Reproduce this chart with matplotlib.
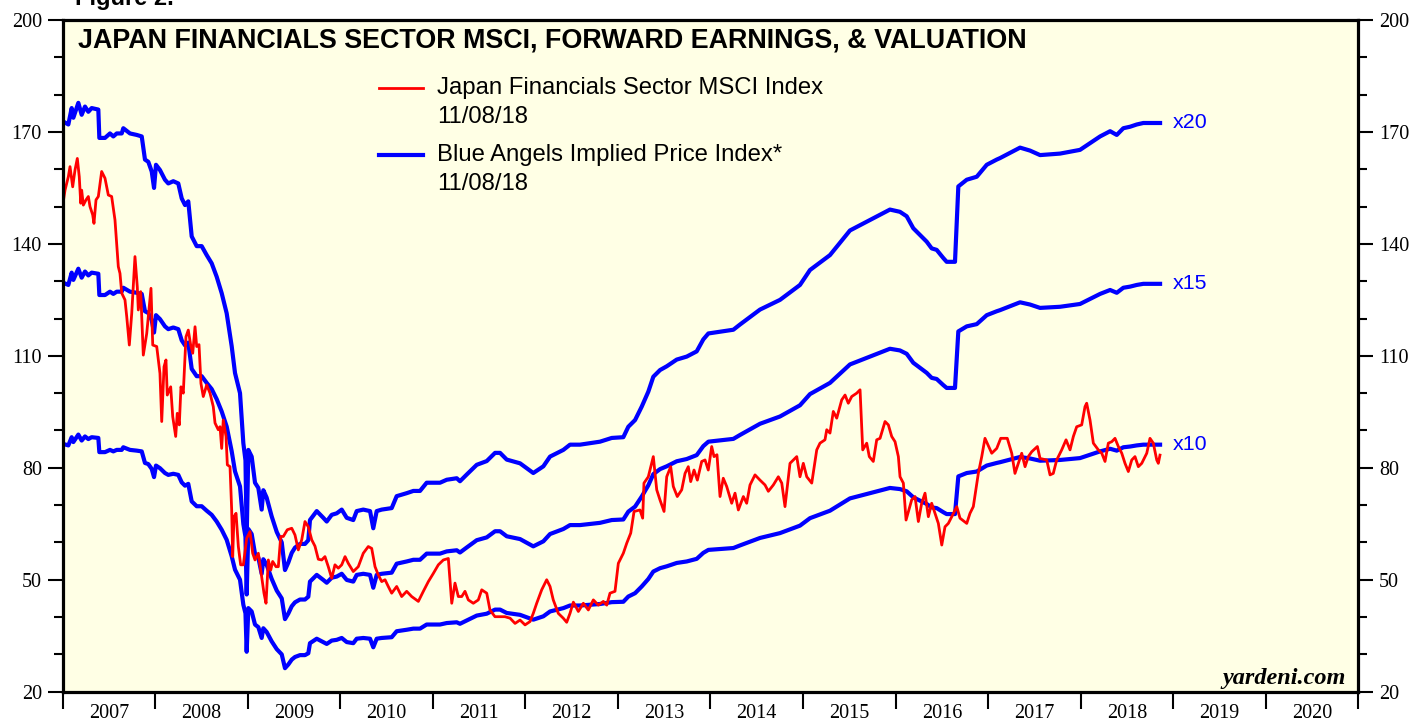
import matplotlib
matplotlib.use('Agg')
import matplotlib.pyplot as plt
from matplotlib.ticker import MultipleLocator, FixedLocator, NullFormatter
from matplotlib.lines import Line2D

# forward earnings (index units), decimal year
eps_dates = [2007.006, 2007.061, 2007.097, 2007.115, 2007.169, 2007.205, 2007.241, 2007.277, 2007.313, 2007.385,
             2007.396, 2007.457, 2007.511, 2007.547, 2007.584, 2007.638, 2007.655, 2007.727, 2007.800, 2007.854,
             2007.889, 2007.925, 2007.962, 2007.987, 2008.008, 2008.051, 2008.105, 2008.141, 2008.195, 2008.249,
             2008.286, 2008.322, 2008.357, 2008.394, 2008.448, 2008.502, 2008.556, 2008.610, 2008.664, 2008.718,
             2008.772, 2008.826, 2008.862, 2008.916, 2008.952, 2008.975, 2008.988, 2009.006, 2009.042, 2009.078,
             2009.114, 2009.150, 2009.168, 2009.204, 2009.258, 2009.313, 2009.367, 2009.402, 2009.438, 2009.475,
             2009.510, 2009.564, 2009.618, 2009.654, 2009.672, 2009.745, 2009.816, 2009.853, 2009.907, 2009.961,
             2010.015, 2010.069, 2010.140, 2010.177, 2010.248, 2010.321, 2010.356, 2010.393, 2010.447, 2010.555,
             2010.609, 2010.717, 2010.789, 2010.861, 2010.933, 2011.077, 2011.150, 2011.258, 2011.293, 2011.366,
             2011.474, 2011.582, 2011.672, 2011.726, 2011.798, 2011.942, 2012.085, 2012.194, 2012.266, 2012.410,
             2012.482, 2012.590, 2012.698, 2012.806, 2012.933, 2013.058, 2013.112, 2013.185, 2013.257, 2013.328,
             2013.382, 2013.455, 2013.527, 2013.635, 2013.743, 2013.851, 2013.922, 2013.977, 2014.139, 2014.247,
             2014.319, 2014.535, 2014.751, 2014.967, 2015.075, 2015.291, 2015.507, 2015.723, 2015.939, 2016.047,
             2016.120, 2016.191, 2016.263, 2016.336, 2016.390, 2016.444, 2016.516, 2016.552, 2016.642, 2016.678,
             2016.769, 2016.877, 2016.985, 2017.093, 2017.129, 2017.345, 2017.453, 2017.561, 2017.777, 2017.993,
             2018.210, 2018.318, 2018.390, 2018.461, 2018.534, 2018.606, 2018.677, 2018.750, 2018.858]
fwd_eps = [8.64, 8.60, 8.82, 8.69, 8.89, 8.73, 8.84, 8.77, 8.82, 8.80,
           8.42, 8.42, 8.48, 8.44, 8.48, 8.48, 8.55, 8.48, 8.46, 8.44,
           8.13, 8.10, 7.97, 7.75, 8.06, 7.99, 7.86, 7.81, 7.84, 7.81,
           7.61, 7.52, 7.57, 7.10, 6.97, 6.97, 6.85, 6.74, 6.56, 6.34,
           6.07, 5.63, 5.27, 5.00, 4.33, 4.10, 3.07, 4.24, 4.15, 3.80,
           3.73, 3.44, 3.70, 3.60, 3.35, 3.14, 3.00, 2.63, 2.73, 2.86,
           2.93, 2.98, 2.98, 3.03, 3.30, 3.42, 3.33, 3.28, 3.37, 3.39,
           3.44, 3.33, 3.30, 3.42, 3.44, 3.42, 3.19, 3.42, 3.44, 3.46,
           3.62, 3.66, 3.69, 3.69, 3.80, 3.80, 3.84, 3.86, 3.82, 3.91,
           4.04, 4.09, 4.20, 4.20, 4.11, 4.06, 3.93, 4.02, 4.15, 4.24,
           4.31, 4.31, 4.33, 4.35, 4.40, 4.41, 4.55, 4.64, 4.82, 5.02,
           5.22, 5.31, 5.36, 5.45, 5.49, 5.56, 5.72, 5.80, 5.83, 5.85,
           5.92, 6.12, 6.25, 6.45, 6.65, 6.85, 7.18, 7.32, 7.46, 7.43,
           7.37, 7.21, 7.12, 7.03, 6.94, 6.92, 6.81, 6.76, 6.76, 7.77,
           7.86, 7.90, 8.06, 8.13, 8.15, 8.29, 8.25, 8.19, 8.21, 8.26,
           8.44, 8.51, 8.46, 8.55, 8.57, 8.60, 8.62, 8.62, 8.62]
multiples = [10, 15, 20]
multiple_labels = ['x10', 'x15', 'x20']

# Japan Financials Sector MSCI index
msci_dates = [2007.006, 2007.025, 2007.061, 2007.079, 2007.108, 2007.133, 2007.158, 2007.179, 2007.195, 2007.205,
              2007.223, 2007.252, 2007.277, 2007.295, 2007.324, 2007.338, 2007.360, 2007.385, 2007.421, 2007.457,
              2007.493, 2007.529, 2007.565, 2007.601, 2007.619, 2007.638, 2007.673, 2007.692, 2007.720, 2007.746,
              2007.781, 2007.806, 2007.817, 2007.843, 2007.871, 2007.908, 2007.936, 2007.954, 2007.973, 2008.016,
              2008.051, 2008.070, 2008.095, 2008.116, 2008.130, 2008.167, 2008.189, 2008.221, 2008.238, 2008.260,
              2008.278, 2008.303, 2008.332, 2008.357, 2008.383, 2008.405, 2008.430, 2008.448, 2008.473, 2008.494,
              2008.519, 2008.556, 2008.592, 2008.627, 2008.646, 2008.681, 2008.700, 2008.718, 2008.735, 2008.765,
              2008.779, 2008.808, 2008.826, 2008.837, 2008.851, 2008.873, 2008.898, 2008.923, 2008.952, 2008.988,
              2009.024, 2009.053, 2009.078, 2009.114, 2009.150, 2009.175, 2009.197, 2009.222, 2009.248, 2009.269,
              2009.305, 2009.330, 2009.356, 2009.384, 2009.427, 2009.475, 2009.510, 2009.546, 2009.583, 2009.618,
              2009.654, 2009.691, 2009.726, 2009.762, 2009.799, 2009.834, 2009.870, 2009.907, 2009.942, 2009.978,
              2010.015, 2010.051, 2010.086, 2010.140, 2010.194, 2010.248, 2010.302, 2010.339, 2010.375, 2010.410,
              2010.447, 2010.483, 2010.518, 2010.555, 2010.609, 2010.663, 2010.717, 2010.771, 2010.843, 2010.897,
              2010.951, 2011.005, 2011.059, 2011.113, 2011.167, 2011.204, 2011.239, 2011.275, 2011.312, 2011.347,
              2011.383, 2011.437, 2011.491, 2011.528, 2011.582, 2011.617, 2011.671, 2011.725, 2011.779, 2011.834,
              2011.888, 2011.942, 2011.996, 2012.050, 2012.085, 2012.122, 2012.176, 2012.230, 2012.266, 2012.301,
              2012.355, 2012.409, 2012.446, 2012.482, 2012.518, 2012.572, 2012.626, 2012.680, 2012.734, 2012.788,
              2012.842, 2012.879, 2012.914, 2012.968, 2013.004, 2013.058, 2013.095, 2013.138, 2013.174, 2013.238,
              2013.267, 2013.281, 2013.328, 2013.382, 2013.419, 2013.454, 2013.498, 2013.527, 2013.570, 2013.598,
              2013.641, 2013.689, 2013.725, 2013.760, 2013.786, 2013.822, 2013.858, 2013.905, 2013.941, 2013.976,
              2014.013, 2014.038, 2014.070, 2014.103, 2014.138, 2014.175, 2014.229, 2014.265, 2014.301, 2014.355,
              2014.391, 2014.427, 2014.481, 2014.535, 2014.589, 2014.625, 2014.679, 2014.733, 2014.770, 2014.805,
              2014.859, 2014.932, 2014.967, 2015.003, 2015.040, 2015.094, 2015.148, 2015.183, 2015.237, 2015.256,
              2015.291, 2015.327, 2015.364, 2015.418, 2015.454, 2015.489, 2015.526, 2015.580, 2015.616, 2015.645,
              2015.688, 2015.716, 2015.759, 2015.796, 2015.832, 2015.886, 2015.922, 2015.958, 2015.994, 2016.030,
              2016.048, 2016.084, 2016.113, 2016.174, 2016.210, 2016.246, 2016.282, 2016.318, 2016.354, 2016.390,
              2016.462, 2016.499, 2016.534, 2016.570, 2016.607, 2016.661, 2016.696, 2016.769, 2016.804, 2016.840,
              2016.894, 2016.931, 2016.966, 2017.039, 2017.093, 2017.136, 2017.207, 2017.255, 2017.290, 2017.326,
              2017.363, 2017.399, 2017.434, 2017.471, 2017.532, 2017.561, 2017.633, 2017.669, 2017.704, 2017.741,
              2017.795, 2017.842, 2017.885, 2017.921, 2017.957, 2018.011, 2018.047, 2018.065, 2018.101, 2018.137,
              2018.191, 2018.228, 2018.263, 2018.299, 2018.336, 2018.371, 2018.407, 2018.444, 2018.479, 2018.515,
              2018.552, 2018.587, 2018.623, 2018.660, 2018.714, 2018.749, 2018.785, 2018.822, 2018.839, 2018.857]
msci_values = [151.3, 154.4, 158.0, 160.7, 155.3, 159.8, 162.9, 158.0, 150.9, 154.4,
               150.4, 151.8, 152.7, 150.0, 147.8, 145.5, 151.8, 152.7, 159.4, 157.6,
               153.1, 152.7, 146.4, 133.9, 132.1, 126.8, 125.0, 120.5, 112.9, 121.4,
               136.6, 128.5, 122.3, 127.2, 110.2, 116.0, 123.2, 128.1, 112.9, 112.5,
               105.3, 92.4, 107.1, 108.9, 99.5, 101.7, 93.7, 88.4, 94.6, 91.5,
               101.7, 100.0, 115.1, 116.9, 112.9, 110.7, 117.8, 112.5, 113.0, 102.6,
               99.1, 102.2, 100.0, 96.4, 92.0, 90.2, 91.0, 85.2, 92.8, 88.4,
               80.8, 80.3, 68.7, 56.2, 66.9, 67.8, 58.9, 54.0, 54.0, 61.1,
               62.9, 57.1, 55.3, 57.1, 50.9, 46.4, 43.7, 55.3, 52.6, 54.9,
               53.5, 53.5, 61.6, 61.6, 63.4, 63.8, 62.0, 58.0, 60.7, 65.6,
               64.2, 60.7, 59.0, 55.5, 55.3, 56.2, 53.5, 50.4, 54.0, 53.1,
               54.0, 56.2, 54.4, 52.2, 53.5, 57.1, 58.9, 58.4, 53.5, 51.3,
               49.5, 50.0, 48.2, 46.4, 48.2, 45.5, 46.9, 45.5, 44.2, 46.9,
               49.5, 51.7, 54.0, 55.3, 55.7, 43.7, 49.1, 45.5, 45.5, 46.9,
               44.6, 43.7, 44.6, 47.3, 46.4, 41.9, 40.1, 40.1, 40.1, 39.7,
               38.3, 39.2, 37.9, 38.8, 41.0, 43.7, 47.3, 50.0, 48.2, 44.6,
               41.0, 39.7, 38.6, 41.0, 44.0, 41.5, 43.7, 41.9, 44.6, 43.2,
               44.2, 43.2, 46.4, 46.9, 54.4, 57.1, 59.8, 62.5, 68.3, 68.7,
               66.5, 75.9, 77.6, 83.0, 74.1, 71.4, 68.3, 77.6, 80.3, 75.0,
               72.3, 74.1, 78.5, 80.3, 76.3, 79.4, 76.7, 81.7, 82.1, 79.4,
               85.7, 83.0, 83.5, 72.3, 77.2, 75.0, 70.5, 73.2, 68.7, 72.3,
               70.5, 75.4, 78.1, 76.7, 75.4, 73.7, 75.4, 77.6, 75.9, 69.6,
               81.2, 83.0, 77.6, 81.2, 77.6, 75.9, 84.8, 86.6, 87.5, 90.2,
               89.3, 95.1, 93.3, 98.2, 99.5, 97.3, 99.1, 100.0, 100.9, 84.8,
               86.6, 83.0, 81.7, 87.5, 87.9, 92.4, 91.5, 88.4, 87.0, 83.0,
               77.6, 75.9, 66.0, 71.4, 72.3, 65.6, 70.5, 73.2, 66.9, 70.5,
               65.1, 59.3, 64.2, 65.1, 66.9, 69.6, 66.5, 65.1, 67.8, 69.6,
               78.5, 83.0, 87.9, 83.9, 85.2, 87.9, 87.9, 83.9, 78.5, 81.2,
               83.9, 80.3, 83.0, 84.3, 85.7, 82.5, 82.1, 78.1, 78.5, 82.1,
               84.8, 87.5, 84.8, 88.4, 91.0, 91.5, 96.4, 97.3, 92.8, 86.6,
               84.8, 83.9, 81.7, 86.6, 87.0, 87.9, 85.7, 83.9, 81.2, 79.0,
               82.1, 83.0, 80.3, 81.2, 83.9, 87.9, 86.6, 82.1, 81.2, 83.4]

years = list(range(2007, 2021))
y_ticks = [20, 50, 80, 110, 140, 170, 200]

BLUE = '#0000ff'
RED = '#ff0000'
SANS = ['Liberation Sans', 'DejaVu Sans']
SERIF = ['Liberation Serif', 'DejaVu Serif']

fig = plt.figure(figsize=(14.14, 7.21), dpi=100)
ax = fig.add_axes([0.04434, 0.04064, 0.91627, 0.93162])
ax.set_facecolor('#ffffe5')

for m, lab in zip(multiples, multiple_labels):
    vals = [e * m for e in fwd_eps]
    ax.plot(eps_dates, vals, color=BLUE, lw=3.0, zorder=3)
    ax.annotate(lab, xy=(eps_dates[-1], vals[-1]), xytext=(9, 0), textcoords='offset points',
                color=BLUE, fontsize=15.4, family=SANS, va='center', ha='left')

ax.plot(msci_dates, msci_values, color=RED, lw=2.0, zorder=4)

ax.set_xlim(2007, 2021)
ax.set_ylim(20, 200)

# y axis both sides
ax.yaxis.set_major_locator(FixedLocator(y_ticks))
ax.yaxis.set_minor_locator(MultipleLocator(10))
ax.tick_params(axis='y', which='both', direction='out', left=True, right=True,
               labelleft=True, labelright=True, width=1.5, labelsize=14.5)
ax.tick_params(axis='y', which='major', length=11, pad=4)
ax.tick_params(axis='y', which='minor', length=6.5)

# x axis: ticks at year boundaries, labels centred in each year
ax.xaxis.set_major_locator(FixedLocator(years + [2021]))
ax.xaxis.set_major_formatter(NullFormatter())
ax.xaxis.set_minor_locator(FixedLocator([y + 0.5 for y in years]))
ax.set_xticklabels([str(y) for y in years], minor=True)
ax.tick_params(axis='x', which='major', direction='out', length=12, width=1.5)
ax.tick_params(axis='x', which='minor', length=0, pad=9, labelsize=14.5)

for lbl in ax.get_xticklabels(minor=True) + ax.yaxis.get_ticklabels(which='both'):
    lbl.set_family(SERIF)

for sp in ax.spines.values():
    sp.set_linewidth(2.3)
    sp.set_zorder(5)

ax.text(0.0116, 0.9702, 'JAPAN FINANCIALS SECTOR MSCI, FORWARD EARNINGS, & VALUATION',
        transform=ax.transAxes, fontsize=19.4, fontweight='bold', family=SANS, va='center', ha='left')

# legend
tr = ax.transAxes
ax.add_line(Line2D([0.2441, 0.2781], [0.8988, 0.8988], transform=tr, color=RED, lw=2.0))
ax.text(0.2889, 0.8988, 'Japan Financials Sector MSCI Index', transform=tr, fontsize=17.2, family=SANS, va='center')
ax.text(0.2889, 0.8556, '11/08/18', transform=tr, fontsize=17.2, family=SANS, va='center')
ax.add_line(Line2D([0.2441, 0.2781], [0.7990, 0.7990], transform=tr, color=BLUE, lw=3.0))
ax.text(0.2889, 0.7990, 'Blue Angels Implied Price Index*', transform=tr, fontsize=17.2, family=SANS, va='center')
ax.text(0.2889, 0.7558, '11/08/18', transform=tr, fontsize=17.2, family=SANS, va='center')

ax.text(0.9905, 0.0115, 'yardeni.com', transform=tr, fontsize=17.5, fontweight='bold', style='italic',
        family=SERIF, ha='right', va='baseline')

fig.text(0.053, 0.9935, 'Figure 2.', fontsize=17, fontweight='bold', family=SANS, ha='left', va='baseline')

fig.savefig('out.png', dpi=100)
